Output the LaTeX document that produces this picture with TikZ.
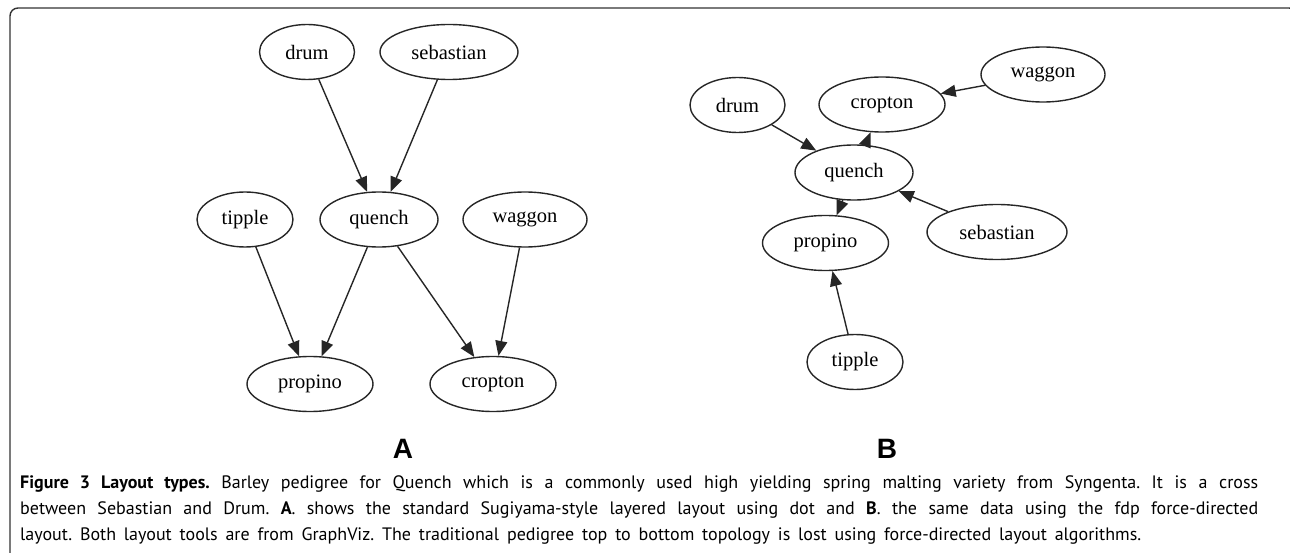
\documentclass[tikz,border=0pt]{standalone}
\usepackage{fontspec}
\setmainfont{Liberation Serif}
\newfontfamily\capfont{PT Sans}
\newfontfamily\labfont{Liberation Sans}
\usetikzlibrary{shapes.geometric,arrows.meta}
\frenchspacing
\begin{document}
\begin{tikzpicture}[x=1pt,y=-1pt,
  gnode/.style={draw=black!85, ellipse, line width=1.4pt, minimum height=55pt, inner sep=0pt,
    font=\fontsize{20.5}{24}\selectfont},
  edge/.style={line width=1.4pt, draw=black!85, -{Triangle[length=15pt,width=12pt]}},
  panellabel/.style={font=\labfont\bfseries\fontsize{28}{30}\selectfont},
  capline/.style={anchor=base west, inner sep=0pt, font=\capfont\fontsize{18}{26}\selectfont}]
\useasboundingbox (0,0) rectangle (1290,553);
\draw[line width=1.4pt, draw=black!80, rounded corners=8pt] (10,560) -- (10,8) -- (1297,8) -- (1297,40);

% Panel A
\node[gnode, minimum width=95pt]  (adrum)  at (307,52)    {drum};
\node[gnode, minimum width=138pt] (aseb)   at (449,52)    {sebastian};
\node[gnode, minimum width=96pt]  (atip)   at (245,219.5) {tipple};
\node[gnode, minimum width=118pt] (aque)   at (379,219.5) {quench};
\node[gnode, minimum width=124pt] (awag)   at (525,219.5) {waggon};
\node[gnode, minimum width=126pt] (aprop)  at (310,384)   {propino};
\node[gnode, minimum width=126pt] (acrop)  at (493,384)   {cropton};
\draw[edge] (adrum) -- (aque);
\draw[edge] (aseb) -- (aque);
\draw[edge] (atip) -- (aprop);
\draw[edge] (aque) -- (aprop);
\draw[edge] (aque) -- (acrop);
\draw[edge] (awag) -- (acrop);

% Panel B
\node[gnode, minimum width=95pt]  (bdrum)  at (737.5,105) {drum};
\node[gnode, minimum width=126pt] (bcrop)  at (882,104.5) {cropton};
\node[gnode, minimum width=124pt] (bwag)   at (1043,74.5) {waggon};
\node[gnode, minimum width=118pt] (bque)   at (854,172.5) {quench};
\node[gnode, minimum width=140pt] (bseb)   at (997,232)   {sebastian};
\node[gnode, minimum width=126pt] (bprop)  at (825.5,243) {propino};
\node[gnode, minimum width=96pt]  (btip)   at (855,362)   {tipple};
\draw[edge] (bdrum) -- (bque);
\draw[edge] (bwag) -- (bcrop);
\draw[edge] (bque) -- (bcrop);
\draw[edge] (bseb) -- (bque);
\draw[edge] (bque) -- (bprop);
\draw[edge] (btip) -- (bprop);

% Panel labels
\node[panellabel] (labA) at (403,449) {A};
\node[panellabel] (labB) at (887,449) {B};

% Caption
\node[capline] (cap1) at (20,488) {\makebox[1238pt][s]{\textbf{Figure 3 Layout types.} Barley pedigree for Quench which is a commonly used high yielding spring malting variety from Syngenta. It is a cross}};
\node[capline] (cap2) at (20,514) {\makebox[1238pt][s]{between Sebastian and Drum. \textbf{A}. shows the standard Sugiyama-style layered layout using dot and \textbf{B}. the same data using the fdp force-directed}};
\node[capline] (cap3) at (20,540) {\makebox[1121pt][s]{layout. Both layout tools are from GraphViz. The traditional pedigree top to bottom topology is lost using force-directed layout algorithms.}};
\end{tikzpicture}
\end{document}
